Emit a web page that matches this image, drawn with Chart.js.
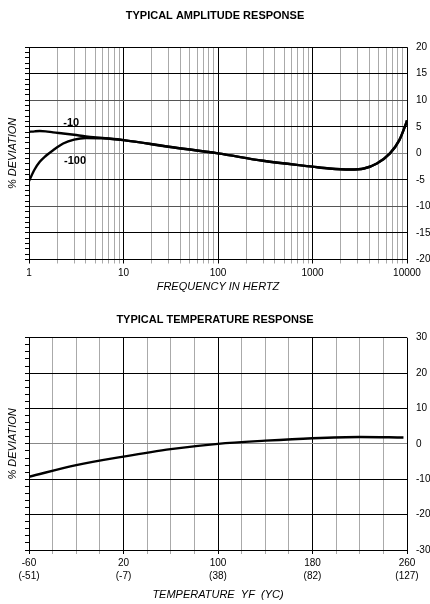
<!DOCTYPE html>
<html>
<head>
<meta charset="utf-8">
<script src="https://cdn.jsdelivr.net/npm/chart.js@4"></script>
<style>
  body { margin: 0; background: #fff; }
  canvas { display: block; }
</style>
</head>
<body>
<canvas id="amp-chart" width="430" height="300"></canvas>
<canvas id="temp-chart" width="430" height="304"></canvas>
<script>
// amplitude response data
const freq = [1, 1.15, 1.3, 1.5, 1.8, 2.3, 3, 4, 6, 10, 30, 100, 300, 1000, 1500, 2500, 3500, 4800, 6600, 8300, 9750, 10000];
const dev10 = [4.05, 4.15, 4.2, 4.15, 3.95, 3.75, 3.5, 3.2, 2.9, 2.5, 1.25, 0, -1.4, -2.5, -2.85, -3.05, -2.85, -1.9, 0, 2.5, 5.6, 6.2];
const dev100 = [-5.2, -3.0, -1.6, -0.5, 0.6, 1.86, 2.6, 2.9, 2.85, 2.5, 1.25, 0, -1.4, -2.5, -2.85, -3.05, -2.85, -1.9, 0, 2.5, 5.6, 6.2];
const curveNames = ['-10', '-100'];
const nameFreq = [2.8, 3.07];
const nameDev = [5.7, -1.5];
const decadeLabels = [1, 10, 100, 1000, 10000];

// temperature response data
const tempF = [-60, -20, 20, 60, 100, 140, 180, 220, 257];
const tempDev = [-9.3, -6.0, -3.6, -1.5, 0, 0.9, 1.6, 1.95, 1.8];
const tempTicks = [-60, 20, 100, 180, 260];
const celsiusTicks = ['(-51)', '(-7)', '(38)', '(82)', '(127)'];

Chart.defaults.font.family = "'Liberation Sans', Arial, sans-serif";
Chart.defaults.color = '#000';
Chart.defaults.animation = false;

const black = '#000';
const gray = '#aaaaaa';

function isDecade(v) {
    const l = Math.log10(v);
    return Math.abs(l - Math.round(l)) < 1e-9;
}

// draws the -10 / -100 curve names
const curveNamePlugin = {
    id: 'curveNames',
    afterDatasetsDraw(chart) {
        const ctx = chart.ctx;
        const xs = chart.scales.x;
        const ys = chart.scales.y;
        ctx.save();
        ctx.font = "bold 11px 'Liberation Sans', Arial, sans-serif";
        ctx.fillStyle = '#000';
        ctx.textAlign = 'center';
        ctx.textBaseline = 'middle';
        curveNames.forEach((name, i) => {
            ctx.fillText(name, xs.getPixelForValue(nameFreq[i]), ys.getPixelForValue(nameDev[i]));
        });
        ctx.restore();
    }
};

//Amplitude chart
const freqGrid = [];
[1, 10, 100, 1000].forEach(d => {
    for (let m = 1; m <= 9; m++) freqGrid.push(m * d);
});
freqGrid.push(10000);

new Chart(document.getElementById('amp-chart'), {
    type: 'line',
    data: {
        datasets: [
            {
                label: '-10',
                data: freq.map((f, i) => ({ x: f, y: dev10[i] })),
                borderColor: black,
                borderWidth: 2.4,
                pointRadius: 0,
                cubicInterpolationMode: 'monotone',
                yAxisID: 'y'
            },
            {
                label: '-100',
                data: freq.map((f, i) => ({ x: f, y: dev100[i] })),
                borderColor: black,
                borderWidth: 2.4,
                pointRadius: 0,
                cubicInterpolationMode: 'monotone',
                yAxisID: 'y'
            }
        ]
    },
    options: {
        responsive: false,
        layout: { padding: 0 },
        plugins: {
            legend: { display: false },
            tooltip: { enabled: false },
            title: {
                display: true,
                text: 'TYPICAL AMPLITUDE RESPONSE',
                font: { size: 11, weight: 'bold' },
                color: black,
                padding: { top: 9, bottom: 25 }
            }
        },
        scales: {
            x: {
                type: 'logarithmic',
                min: 1,
                max: 10000,
                afterBuildTicks: scale => {
                    scale.ticks = freqGrid.map(v => ({ value: v }));
                },
                afterFit: scale => { scale.height = 40.5; },
                ticks: {
                    autoSkip: false,
                    maxRotation: 0,
                    padding: 4,
                    font: { size: 10 },
                    callback: v => decadeLabels.includes(v) ? String(v) : ''
                },
                grid: {
                    color: ctx => ctx.tick && isDecade(ctx.tick.value) ? black : gray,
                    tickLength: 4
                },
                border: { display: true, color: black },
                title: {
                    display: true,
                    text: 'FREQUENCY IN HERTZ',
                    font: { size: 11, style: 'italic' },
                    padding: { top: 0, bottom: 6.7 }
                }
            },
            y: {
                type: 'linear',
                position: 'right',
                min: -20,
                max: 20,
                afterFit: scale => { scale.width = 23; },
                ticks: { stepSize: 5, padding: 9, font: { size: 10 } },
                grid: { display: false, drawTicks: false },
                border: { display: false }
            },
            yl: {
                type: 'linear',
                position: 'left',
                min: -20,
                max: 20,
                afterFit: scale => { scale.width = 29; },
                ticks: { stepSize: 1, display: false },
                grid: {
                    color: ctx => {
                        const v = ctx.tick.value;
                        if (v % 5 !== 0) return 'rgba(0,0,0,0)';
                        if (v === 0) return '#888';
                        if (Math.abs(v) === 10) return '#555';
                        return black;
                    },
                    tickColor: black,
                    tickLength: 4
                },
                border: { display: true, color: black },
                title: {
                    display: true,
                    text: '% DEVIATION',
                    font: { size: 11, style: 'italic' },
                    padding: { top: 6.4, bottom: 0 }
                }
            }
        }
    },
    plugins: [curveNamePlugin]
});

//Temperature chart
new Chart(document.getElementById('temp-chart'), {
    type: 'line',
    data: {
        datasets: [{
            label: 'Temperature',
            data: tempF.map((t, i) => ({ x: t, y: tempDev[i] })),
            borderColor: black,
            borderWidth: 2.4,
            pointRadius: 0,
            cubicInterpolationMode: 'monotone',
            yAxisID: 'y'
        }]
    },
    options: {
        responsive: false,
        layout: { padding: 0 },
        plugins: {
            legend: { display: false },
            tooltip: { enabled: false },
            title: {
                display: true,
                text: 'TYPICAL TEMPERATURE RESPONSE',
                font: { size: 11, weight: 'bold' },
                color: black,
                padding: { top: 13.4, bottom: 11.1 }
            }
        },
        scales: {
            x: {
                type: 'linear',
                min: -60,
                max: 260,
                afterFit: scale => { scale.height = 54; },
                ticks: {
                    stepSize: 20,
                    autoSkip: false,
                    maxRotation: 0,
                    padding: 2.5,
                    font: { size: 10, lineHeight: 1.3 },
                    callback: v => {
                        const i = tempTicks.indexOf(v);
                        return i >= 0 ? [String(v), celsiusTicks[i]] : '';
                    }
                },
                grid: {
                    color: ctx => ctx.tick && tempTicks.includes(ctx.tick.value) ? black : gray,
                    tickLength: 4
                },
                border: { display: true, color: black },
                title: {
                    display: true,
                    text: 'TEMPERATURE  ΥF  (ΥC)',
                    font: { size: 11, style: 'italic' },
                    padding: { top: 0, bottom: 2.4 }
                }
            },
            y: {
                type: 'linear',
                position: 'right',
                min: -30,
                max: 30,
                afterFit: scale => { scale.width = 23; },
                ticks: { stepSize: 10, padding: 9, font: { size: 10 } },
                grid: { display: false, drawTicks: false },
                border: { display: false }
            },
            yl: {
                type: 'linear',
                position: 'left',
                min: -30,
                max: 30,
                afterFit: scale => { scale.width = 29; },
                ticks: { stepSize: 2, display: false },
                grid: {
                    color: ctx => {
                        const v = ctx.tick.value;
                        if (v % 10 !== 0) return 'rgba(0,0,0,0)';
                        if (v === 0) return '#888';
                        return black;
                    },
                    tickColor: black,
                    tickLength: 4
                },
                border: { display: true, color: black },
                title: {
                    display: true,
                    text: '% DEVIATION',
                    font: { size: 11, style: 'italic' },
                    padding: { top: 6.4, bottom: 0 }
                }
            }
        }
    }
});
</script>
</body>
</html>
